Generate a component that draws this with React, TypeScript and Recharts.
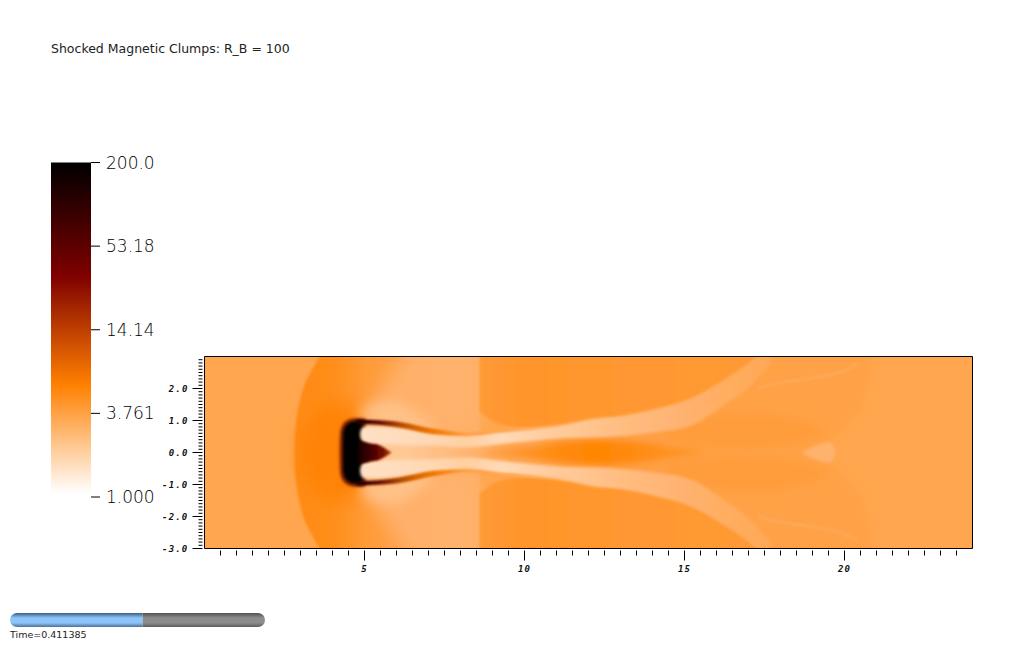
import { Area, Bar, BarChart, ComposedChart, Line, ReferenceLine, XAxis, YAxis } from 'recharts';

type Pt = number[];

// all regions are in data coords: [x, halfHeight] or [x, low, high]
const bowShock = [[2.81, 0], [2.83, 0.6], [2.86, 0.9], [3.04, 1.83], [3.35, 2.56], [3.59, 3], [3.8, 3.5], [8.6, 3.5]];
const nearClump = [[3.0, 0.4], [3.3, 1.0], [3.8, 1.5], [4.6, 1.5], [5.0, 1.2]];
const fanTop = [[5.0, 0.9, 1.25], [5.5, 0.85, 1.9], [6.0, 0.75, 2.6], [6.5, 0.7, 3.2], [7.5, 0.6, 3.5], [8.5, 0.6, 3.5]];
const shoulderTop = [[4.9, 1.0, 1.25], [5.4, 0.9, 1.55], [6.0, 0.8, 1.6], [6.6, 0.7, 1.25], [7.2, 0.6, 0.85]];
const midRight = [[15, 0, 3.5], [19.3, 0, 3.5], [19.5, 0.26, 3.5], [20.3, 1.08, 3.5], [20.7, 1.8, 3.5], [20.9, 3, 3.5]];
const innerLensTop = [[14.5, 0.5, 0.8], [15.5, 0.25, 1.0], [16.5, 0.15, 1.2], [17.5, 0.15, 1.2], [18.5, 0.3, 1.05], [19.5, 0.55, 0.7]];
const outerTop = [[8.6, 1.3, 3.5], [9.2, 0.9, 3.5], [10, 0.8, 3.5], [12, 1.0, 3.5], [14, 1.3, 3.5], [15.2, 1.7, 3.5], [16.2, 2.2, 3.5], [17, 2.8, 3.5], [17.3, 3.0, 3.5], [17.7, 3.5, 3.5]];
const channel = [[5, 0.35], [6, 0.3], [7, 0.3], [8, 0.3], [9.2, 0.35], [10.3, 0.45], [12, 0.55], [14, 0.7], [15.2, 0.9], [16.2, 1.3], [17, 2]];
const coreLens = [[8.8, 0.03], [10, 0.15], [11, 0.3], [12.1, 0.38], [13.3, 0.34], [14.6, 0.16], [15.8, 0]];
const filamentTop = [[4.86, 0.55, 0.57], [4.9, 0.4, 0.74], [5.07, 0.3, 0.82], [6.1, 0.22, 0.76], [7.15, 0.21, 0.58], [8.2, 0.16, 0.52], [9.2, 0.26, 0.63], [10.3, 0.37, 0.73], [11.3, 0.45, 0.87], [12.05, 0.47, 1.04], [13.1, 0.52, 1.15], [14.1, 0.63, 1.36], [15.2, 0.84, 1.67], [16.2, 1.46, 2.25], [17, 2.04, 2.77], [17.25, 2.3, 3], [17.7, 2.8, 3.5]];
const armTop = [[4.75, 0.9, 1.03], [5.07, 0.89, 1.02], [6.1, 0.78, 0.95], [7.15, 0.58, 0.74], [8.2, 0.53, 0.62], [9.2, 0.64, 0.69], [10.3, 0.74, 0.78]];
const clumpEdge = [[4.22, 0], [4.23, 0.55], [4.28, 0.8], [4.45, 1.0], [4.7, 1.07], [4.95, 1.07], [5.05, 1.0]];
const clumpBody = [[4.32, 0], [4.33, 0.6], [4.38, 0.78], [4.52, 0.92], [4.7, 0.98], [4.85, 0.98], [4.95, 0.9]];
const tongue = [[4.8, 0.34], [5, 0.33], [5.2, 0.28], [5.4, 0.25], [5.6, 0.16], [5.85, 0]];
const arrowSpot = [[18.65, 0], [19.1, 0.22], [19.55, 0.32], [19.7, 0.1]];
const thinFilament = [[17.3, 2.0], [17.8, 2.14], [18.5, 2.25], [19.2, 2.36], [19.86, 2.5], [20.4, 2.75]];

// colours along x: [x, colour]
const bowStops: [number, string][] = [[2.8, '#ff8a12'], [4, '#ff8e1a'], [5, '#ff9a36'], [6.5, '#ffa654'], [8.6, '#ffae64']];
const fanStops: [number, string][] = [[5, '#ffb069'], [6, '#ffb06a'], [8.6, '#ffb36e']];
const outerStops: [number, string][] = [[8.6, '#ff9a36'], [10, '#ff952a'], [13, '#ff9830'], [17.5, '#ff9a35']];
const channelStops: [number, string][] = [[5, '#ffc48e'], [6.2, '#ffc995'], [7.5, '#ffbd83'], [8.5, '#ffb06a'], [9.5, '#ffa654'], [12, '#ffa04a'], [15, '#ff9f42'], [16.5, '#ffa14500']];
const coreStops: [number, string][] = [[8.8, '#ff9c3c'], [10, '#ff9226'], [11.5, '#ff8808'], [12.5, '#ff8604'], [14, '#ff8e1a'], [16, '#ff9a36']];
const filamentStops: [number, string][] = [[5, '#ffe0c4'], [7, '#ffd8b4'], [8.2, '#ffcfa0'], [9.3, '#ffdab8'], [10.5, '#ffcea2'], [12, '#ffc48e'], [13.5, '#ffba7c'], [15, '#ffb270'], [16.2, '#ffad60'], [17.5, '#ffa958']];
const armStops: [number, string][] = [[5, '#2a0000'], [5.5, '#6a1000'], [6.1, '#b04800'], [6.6, '#d86400'], [7.15, '#f07800'], [8.2, '#ff9c40'], [9.4, '#ffa048'], [10.3, '#ffae66']];
const tongueStops: [number, string][] = [[4.8, '#150000'], [5.3, '#500000'], [5.6, '#7a1000'], [5.85, '#c05000']];

const legendTicks = [1, 3.761, 14.14, 53.18, 200];
const legendLabels = ['1.000', '3.761', '14.14', '53.18', '200.0'];
const legendStops: [number, string][] = [[0, '#000000'], [0.34, '#7f0000'], [0.664, '#ff8000'], [0.99, '#ffffff']];
const legendRow = [{ name: 'den', range: [1, 200] }];

const xTicks = Array.from({ length: 47 }, (_, i) => (i + 1) * 0.5);
const yTicks = Array.from({ length: 60 }, (_, i) => Math.round((i - 30)) / 10);
const sliderRow = [{ name: 'time', done: 0.52, left: 0.48 }];

const toBand = (pts: Pt[]) => pts.map(([x, h]) => ({ x, range: [-h, h] }));
const toRange = (pts: Pt[]) => pts.map(([x, lo, hi]) => ({ x, range: [lo, hi] }));
const toMirror = (pts: Pt[]) => pts.map(([x, lo, hi]) => ({ x, range: [-hi, -lo] }));

const plotLeft = 204.5;
const plotRight = 972.5;

function xGrad(id: string, stops: [number, string][]) {
  return (
    <linearGradient id={id} gradientUnits="userSpaceOnUse" x1={plotLeft} x2={plotRight} y1={0} y2={0}>
      {stops.map(([x, c]) => <stop key={x} offset={x / 24} stopColor={c} />)}
    </linearGradient>
  );
}

function blur(id: string, sd: number) {
  return (
    <filter id={id} filterUnits="userSpaceOnUse" x={0} y={0} width={1024} height={645}>
      <feGaussianBlur stdDeviation={sd} />
    </filter>
  );
}

function region(key: string, data: any[], fill: string, filter?: string, opacity = 1) {
  return (
    <Area
      key={key}
      data={data}
      dataKey="range"
      type="monotone"
      stroke="none"
      fill={fill}
      fillOpacity={opacity}
      filter={filter ? `url(#${filter})` : undefined}
      dot={false}
      activeDot={false}
      isAnimationActive={false}
    />
  );
}

const tickFont = { fontFamily: '"DejaVu Sans Mono"', fontWeight: 700, fontStyle: 'italic', fontSize: 9, letterSpacing: 1.2 };

function XTick({ x, y, payload }: any) {
  const major = payload.value % 5 === 0;
  return (
    <g>
      <line x1={x} x2={x} y1={y} y2={y + (major ? 10 : 5)} stroke="#000" />
      {major && <text x={x} y={y + 21} textAnchor="middle" fill="#111" {...tickFont}>{payload.value}</text>}
    </g>
  );
}

function YTick({ x, y, payload }: any) {
  const major = Number.isInteger(payload.value);
  return (
    <g>
      <line x1={x} x2={x - (major ? 10 : 4)} y1={y} y2={y} stroke="#000" />
      {major && <text x={x - 14} y={y + 3} textAnchor="end" fill="#111" {...tickFont}>{payload.value.toFixed(1)}</text>}
    </g>
  );
}

function Plot() {
  return (
    <ComposedChart width={1024} height={645} margin={{ top: 356.5, left: 154.5, right: 51.5, bottom: 46.5 }}>
      <defs>
        {xGrad('gBow', bowStops)}
        {xGrad('gFan', fanStops)}
        {xGrad('gOuter', outerStops)}
        {xGrad('gChannel', channelStops)}
        {xGrad('gCore', coreStops)}
        {xGrad('gFilament', filamentStops)}
        {xGrad('gArm', armStops)}
        {xGrad('gTongue', tongueStops)}
        {blur('b1', 1)}
        {blur('b15', 1.5)}
        {blur('b2', 2)}
        {blur('b3', 3)}
        {blur('b6', 6)}
        {blur('b9', 9)}
      </defs>
      <XAxis type="number" dataKey="x" domain={[0, 24]} allowDataOverflow ticks={xTicks} interval={0} height={50} tickSize={0} tick={<XTick />} tickLine={false} axisLine={{ stroke: '#000' }} />
      <YAxis type="number" domain={[-3, 3]} allowDataOverflow ticks={yTicks} interval={0} width={50} tickSize={0} tick={<YTick />} tickLine={false} axisLine={{ stroke: '#000' }} />
      {region('bg', toRange([[0, -3.5, 3.5], [24, -3.5, 3.5]]), '#ffa64e')}
      {region('midT', toRange(midRight), '#ffa247', 'b3')}
      {region('midB', toMirror(midRight), '#ffa247', 'b3')}
      {region('bow', toBand(bowShock), 'url(#gBow)', 'b1')}
      {region('near', toBand(nearClump), '#ff8000', 'b9', 0.75)}
      {region('fanT', toRange(fanTop), 'url(#gFan)', 'b9')}
      {region('fanB', toMirror(fanTop), 'url(#gFan)', 'b9')}
      {region('shT', toRange(shoulderTop), '#ffc68f', 'b6', 0.8)}
      {region('shB', toMirror(shoulderTop), '#ffc68f', 'b6', 0.8)}
      {region('outT', toRange(outerTop), 'url(#gOuter)', 'b1')}
      {region('outB', toMirror(outerTop), 'url(#gOuter)', 'b1')}
      <Line data={thinFilament.map(([x, y]) => ({ x, y }))} dataKey="y" type="monotone" dot={false} activeDot={false} stroke="#ffb26e" strokeWidth={2.5} strokeOpacity={0.45} filter="url(#b1)" isAnimationActive={false} />
      <Line data={thinFilament.map(([x, y]) => ({ x, y: -y }))} dataKey="y" type="monotone" dot={false} activeDot={false} stroke="#ffb26e" strokeWidth={2.5} strokeOpacity={0.45} filter="url(#b1)" isAnimationActive={false} />
      {region('edge', toBand(clumpEdge), '#8a2000', 'b15')}
      {region('body', toBand(clumpBody), '#000', 'b15')}
      {region('chan', toBand(channel), 'url(#gChannel)', 'b2')}
      {region('lensT', toRange(innerLensTop), '#ff9c3a', 'b6')}
      {region('lensB', toMirror(innerLensTop), '#ff9c3a', 'b6')}
      {region('core', toBand(coreLens), 'url(#gCore)', 'b3')}
      {region('filT', toRange(filamentTop), 'url(#gFilament)', 'b15')}
      {region('filB', toMirror(filamentTop), 'url(#gFilament)', 'b15')}
      {region('tongue', toBand(tongue), 'url(#gTongue)', 'b1')}
      {region('armT', toRange(armTop), 'url(#gArm)', 'b1')}
      {region('armB', toMirror(armTop), 'url(#gArm)', 'b1')}
      {region('spot', toBand(arrowSpot), '#ffb26e', 'b15')}
      <ReferenceLine y={3} stroke="#000" />
      <ReferenceLine x={24} stroke="#000" />
    </ComposedChart>
  );
}

function ColorBar() {
  return (
    <BarChart width={170} height={520} data={legendRow} barCategoryGap={0} margin={{ top: 162.5, left: 51, right: 0, bottom: 23 }}>
      <defs>
        <linearGradient id="gLegend" x1={0} x2={0} y1={0} y2={1}>
          {legendStops.map(([o, c]) => <stop key={o} offset={o} stopColor={c} />)}
        </linearGradient>
      </defs>
      <XAxis dataKey="name" hide />
      <YAxis
        orientation="right"
        scale="log"
        type="number"
        domain={[1, 200]}
        ticks={legendTicks}
        interval={0}
        width={79}
        axisLine={false}
        tickSize={9}
        tickMargin={6}
        tickLine={{ stroke: '#000' }}
        tick={{ fill: '#000', fontSize: 17, fontFamily: '"DejaVu Sans"', fontWeight: 200 }}
        tickFormatter={(v: number) => legendLabels[legendTicks.indexOf(v)]}
      />
      <Bar dataKey="range" fill="url(#gLegend)" isAnimationActive={false} />
    </BarChart>
  );
}

function TimeSlider() {
  return (
    <BarChart width={275} height={14} layout="vertical" data={sliderRow} barCategoryGap={0} margin={{ top: 0, left: 10, right: 10, bottom: 0 }}>
      <defs>
        <linearGradient id="gDone" x1={0} x2={0} y1={0} y2={1}>
          <stop offset={0} stopColor="#3c5f80" />
          <stop offset={0.35} stopColor="#8cc4fc" />
          <stop offset={0.7} stopColor="#8cc4fc" />
          <stop offset={1} stopColor="#4e7094" />
        </linearGradient>
        <linearGradient id="gLeft" x1={0} x2={0} y1={0} y2={1}>
          <stop offset={0} stopColor="#505050" />
          <stop offset={0.35} stopColor="#8c8c8c" />
          <stop offset={0.7} stopColor="#8c8c8c" />
          <stop offset={1} stopColor="#5c5c5c" />
        </linearGradient>
      </defs>
      <XAxis type="number" domain={[0, 1]} hide />
      <YAxis type="category" dataKey="name" hide />
      <Bar dataKey="done" stackId="t" fill="url(#gDone)" radius={[7, 0, 0, 7]} isAnimationActive={false} />
      <Bar dataKey="left" stackId="t" fill="url(#gLeft)" radius={[0, 7, 7, 0]} isAnimationActive={false} />
    </BarChart>
  );
}

export default function App() {
  const abs = (left: number, top: number) => ({ position: 'absolute' as const, left, top });
  return (
    <div style={{ position: 'absolute', left: 0, top: 0, width: 1024, height: 645, overflow: 'hidden', background: '#fff' }}>
      <div style={abs(0, 0)}><Plot /></div>
      <div style={abs(0, 0)}><ColorBar /></div>
      <div style={abs(0, 613)}><TimeSlider /></div>
      <div style={{ ...abs(51, 41), font: '12.5px "DejaVu Sans"', color: '#222', whiteSpace: 'nowrap' }}>Shocked Magnetic Clumps: R_B = 100</div>
      <div style={{ ...abs(10, 629), font: '9.5px "DejaVu Sans"', color: '#222', whiteSpace: 'nowrap' }}>Time=0.411385</div>
    </div>
  );
}
